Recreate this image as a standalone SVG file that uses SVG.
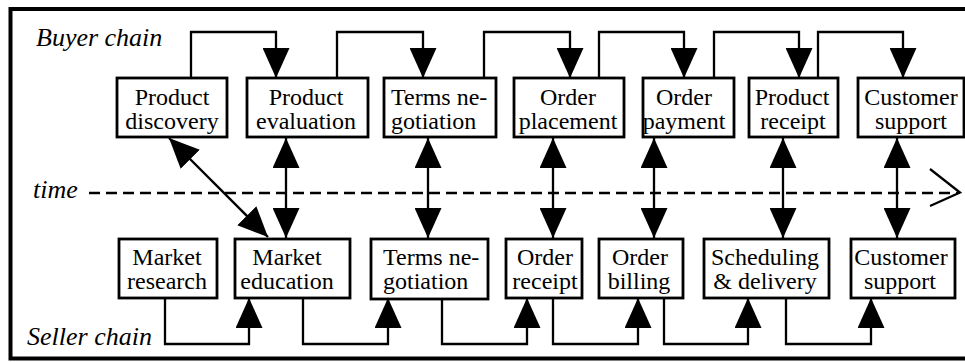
<svg xmlns="http://www.w3.org/2000/svg" width="965" height="362" viewBox="0 0 965 362">
<defs>
<marker id="ah" markerUnits="userSpaceOnUse" markerWidth="30" markerHeight="27" refX="30" refY="13.5" orient="auto-start-reverse"><path d="M0,0 L30,13.5 L0,27 Z" fill="#000"/></marker>
</defs>
<style>
text{font-family:"Liberation Serif","Times New Roman",serif}
.box{fill:#fff;stroke:#000;stroke-width:2.8}
.t{font-size:24px;fill:#000;text-anchor:middle}
.tl{text-anchor:start}
.lab{font-size:26px;font-style:italic;fill:#000}
.c{fill:none;stroke:#000;stroke-width:2.3}
.a{marker-end:url(#ah)}
.d{marker-start:url(#ah);marker-end:url(#ah)}
</style>
<rect x="10.5" y="9" width="965" height="349.5" fill="#fff" stroke="#000" stroke-width="4"/>
<text class="lab" x="36" y="46">Buyer chain</text>
<text class="lab" x="33" y="198">time</text>
<text class="lab" x="27" y="345">Seller chain</text>
<g id="connectors">
<path class="c" d="M89,193 H958" stroke-dasharray="11,6" stroke-width="2.8"/>
<polyline class="c" points="930,169 960,192.5 930,206" stroke-width="2.5"/>
<path class="c a" d="M191,78 V32 H276 V78"/>
<path class="c a" d="M337,78 V32 H423 V78"/>
<path class="c a" d="M484,78 V32 H570 V78"/>
<path class="c a" d="M599,78 V32 H684 V78"/>
<path class="c a" d="M714,78 V32 H799 V78"/>
<path class="c a" d="M818,78 V32 H903 V78"/>
<path class="c a" d="M165,298 V344 H249 V298"/>
<path class="c a" d="M303,298 V344 H388 V298"/>
<path class="c a" d="M442,298 V344 H527 V298"/>
<path class="c a" d="M553,298 V344 H638 V298"/>
<path class="c a" d="M664,298 V344 H748 V298"/>
<path class="c a" d="M786,298 V344 H871 V298"/>
<path class="c d" d="M286,138 V238"/>
<path class="c d" d="M428,138 V238"/>
<path class="c d" d="M553,138 V238"/>
<path class="c d" d="M654,138 V238"/>
<path class="c d" d="M783,138 V238"/>
<path class="c d" d="M897,138 V238"/>
<path class="c d" d="M169,138 L268,237"/>
</g>
<g id="n-product-discovery"><rect class="box" x="117" y="78" width="110" height="59"/><text class="t" x="172" y="105">Product</text><text class="t" x="172" y="129">discovery</text></g>
<g id="n-product-evaluation"><rect class="box" x="247" y="78" width="121" height="59"/><text class="t" x="306" y="105">Product</text><text class="t" x="306" y="129">evaluation</text></g>
<g id="n-terms-buyer"><rect class="box" x="384" y="78" width="112" height="59"/><text class="t tl" x="391" y="105">Terms ne-</text><text class="t tl" x="391" y="129">gotiation</text></g>
<g id="n-order-placement"><rect class="box" x="514" y="78" width="110" height="59"/><text class="t" x="568" y="105">Order</text><text class="t" x="568" y="129">placement</text></g>
<g id="n-order-payment"><rect class="box" x="643" y="78" width="91" height="59"/><text class="t" x="684" y="105">Order</text><text class="t" x="684" y="129">payment</text></g>
<g id="n-product-receipt"><rect class="box" x="749" y="78" width="89" height="59"/><text class="t" x="792" y="105">Product</text><text class="t" x="793" y="129">receipt</text></g>
<g id="n-customer-support-buyer"><rect class="box" x="858" y="78" width="106" height="59"/><text class="t" x="911" y="105">Customer</text><text class="t" x="911" y="129">support</text></g>
<g id="n-market-research"><rect class="box" x="119" y="239" width="98" height="59"/><text class="t" x="167" y="265">Market</text><text class="t" x="167" y="289">research</text></g>
<g id="n-market-education"><rect class="box" x="235" y="239" width="115" height="59"/><text class="t" x="287" y="265">Market</text><text class="t" x="287" y="289">education</text></g>
<g id="n-terms-seller"><rect class="box" x="371" y="239" width="117" height="60"/><text class="t tl" x="383" y="265">Terms ne-</text><text class="t tl" x="383" y="289">gotiation</text></g>
<g id="n-order-receipt"><rect class="box" x="506" y="239" width="76" height="59"/><text class="t" x="545" y="265">Order</text><text class="t" x="545" y="289">receipt</text></g>
<g id="n-order-billing"><rect class="box" x="599" y="239" width="84" height="59"/><text class="t" x="640" y="265">Order</text><text class="t" x="639" y="289">billing</text></g>
<g id="n-scheduling-delivery"><rect class="box" x="704" y="239" width="125" height="59"/><text class="t" x="765" y="265">Scheduling</text><text class="t" x="765" y="289">&amp; delivery</text></g>
<g id="n-customer-support-seller"><rect class="box" x="851" y="239" width="104" height="59"/><text class="t" x="901" y="265">Customer</text><text class="t" x="900" y="289">support</text></g>
</svg>
